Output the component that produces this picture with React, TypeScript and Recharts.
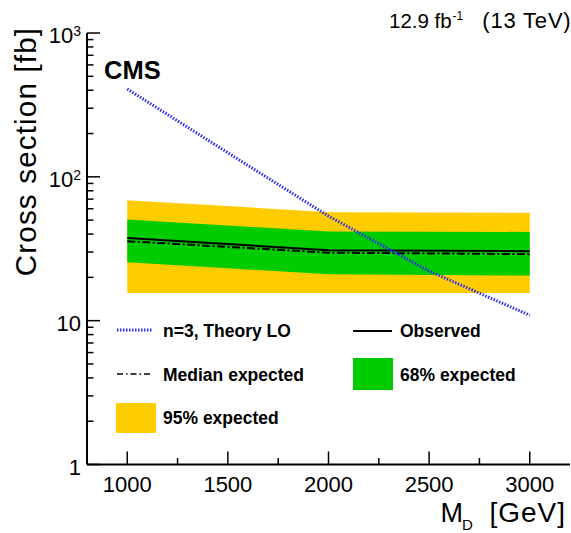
import React from 'react';
import { ComposedChart, Line, Area, XAxis, YAxis, Legend } from 'recharts';

const FONT = '"Liberation Sans", Arial, Helvetica, sans-serif';

// Limit curves (sampled at M_D points)
const limitMass = [1000, 2000, 3000];
const observedLimit = [37.5, 30.9, 30.4];
const medianExpected = [35.7, 29.7, 29.0];
const expected68Low = [25.5, 21.0, 20.6];
const expected68High = [50.5, 41.7, 41.4];
const expected95Low = [15.6, 15.6, 15.6];
const expected95High = [68.8, 56.8, 56.2];

// Theory cross section, n=3 LO
const theoryMass = [1000, 1500, 2000, 2500, 3000];
const theoryLO = [408, 147, 53.3, 22.1, 10.9];

// Axis ticks
const xTickValues = [1000, 1250, 1500, 1750, 2000, 2250, 2500, 2750, 3000];
const xMajorTicks = [1000, 1500, 2000, 2500, 3000];
const yTickValues = [
  1, 2, 3, 4, 5, 6, 7, 8, 9,
  10, 20, 30, 40, 50, 60, 70, 80, 90,
  100, 200, 300, 400, 500, 600, 700, 800, 900,
  1000,
];
const yMajorTicks = [1, 10, 100, 1000];
const yMajorBase = ['1', '10', '10', '10'];
const yMajorExp = ['', '', '2', '3'];

const band95Data = limitMass.map((m, i) => ({ mass: m, range: [expected95Low[i], expected95High[i]] }));
const band68Data = limitMass.map((m, i) => ({ mass: m, range: [expected68Low[i], expected68High[i]] }));
const observedData = limitMass.map((m, i) => ({ mass: m, value: observedLimit[i] }));
const medianData = limitMass.map((m, i) => ({ mass: m, value: medianExpected[i] }));
const theoryData = theoryMass.map((m, i) => ({ mass: m, value: theoryLO[i] }));

const MAJOR = 13;
const MINOR = 6.5;
const THEORY_BLUE = '#2f2ff0';

const BottomTick = (p: any) => {
  const { x, y, payload } = p;
  const v = payload.value;
  const major = xMajorTicks.includes(v);
  return (
    <g>
      <line x1={x} x2={x} y1={y} y2={y - (major ? MAJOR : MINOR)} stroke="#000" strokeWidth={1.5} />
      {major && (
        <text x={x} y={y + 27.5} textAnchor="middle" fontFamily={FONT} fontSize={22} fill="#000">
          {v}
        </text>
      )}
    </g>
  );
};

const TopTick = (p: any) => {
  const { x, y, payload } = p;
  const major = xMajorTicks.includes(payload.value);
  return <line x1={x} x2={x} y1={y} y2={y + (major ? MAJOR : MINOR)} stroke="#000" strokeWidth={1.5} />;
};

const LeftTick = (p: any) => {
  const { x, y, payload } = p;
  const idx = yMajorTicks.indexOf(payload.value);
  const major = idx >= 0;
  return (
    <g>
      <line x1={x} x2={x + (major ? MAJOR : MINOR)} y1={y} y2={y} stroke="#000" strokeWidth={1.5} />
      {major && (
        <text x={x - 6} y={y + 10} textAnchor="end" fontFamily={FONT} fontSize={22} fill="#000">
          <tspan>{yMajorBase[idx]}</tspan>
          {yMajorExp[idx] && (
            <tspan fontSize={14} dy={-7}>
              {yMajorExp[idx]}
            </tspan>
          )}
        </text>
      )}
    </g>
  );
};

const RightTick = (p: any) => {
  const { x, y, payload } = p;
  const major = yMajorTicks.includes(payload.value);
  return <line x1={x} x2={x - (major ? MAJOR : MINOR)} y1={y} y2={y} stroke="#000" strokeWidth={1.5} />;
};

const LegendBox = () => (
  <svg width={571} height={533} style={{ position: 'absolute', left: 0, top: 0 }}>
    <g fontFamily={FONT} fontWeight="bold" fontSize={17.5} fill="#000">
      <line x1={117} x2={153} y1={330} y2={330} stroke={THEORY_BLUE} strokeWidth={3} strokeDasharray="1.5 1.5" />
      <text x={163} y={336.5}>n=3, Theory LO</text>
      <line x1={353} x2={392} y1={331} y2={331} stroke="#000" strokeWidth={2} />
      <text x={400} y={337}>Observed</text>
      <line x1={117} x2={153} y1={374} y2={374} stroke="#000" strokeWidth={1.5} strokeDasharray="6 3 1.5 3" />
      <text x={163} y={380.5}>Median expected</text>
      <rect x={353} y={358} width={40} height={32} fill="#00CC00" />
      <text x={400} y={380.5}>68% expected</text>
      <rect x={116} y={403} width={40} height={30} fill="#FFCC00" />
      <text x={163} y={423.5}>95% expected</text>
    </g>
  </svg>
);

export default function App() {
  return (
    <div style={{ position: 'absolute', left: 0, top: 0, width: 571, height: 533, background: '#fff' }}>
      <ComposedChart width={571} height={533} margin={{ top: 33, right: 1, bottom: 0, left: 0 }}>
        <XAxis
          xAxisId="b"
          type="number"
          dataKey="mass"
          orientation="bottom"
          domain={[800, 3200]}
          allowDataOverflow
          ticks={xTickValues}
          interval={0}
          tick={(p: any) => <BottomTick {...p} />}
          tickSize={0}
          tickMargin={0}
          tickLine={false}
          axisLine={{ stroke: '#000', strokeWidth: 2 }}
          height={68.5}
        />
        <XAxis
          xAxisId="t"
          type="number"
          dataKey="mass"
          orientation="top"
          domain={[800, 3200]}
          allowDataOverflow
          ticks={xTickValues}
          interval={0}
          tick={(p: any) => <TopTick {...p} />}
          tickSize={0}
          tickMargin={0}
          tickLine={false}
          axisLine={{ stroke: '#000', strokeWidth: 2 }}
          height={0}
        />
        <YAxis
          yAxisId="l"
          type="number"
          scale="log"
          domain={[1, 1000]}
          allowDataOverflow
          ticks={yTickValues}
          interval={0}
          tick={(p: any) => <LeftTick {...p} />}
          tickSize={0}
          tickMargin={0}
          tickLine={false}
          axisLine={{ stroke: '#000', strokeWidth: 2 }}
          width={87}
        />
        <YAxis
          yAxisId="r"
          orientation="right"
          type="number"
          scale="log"
          domain={[1, 1000]}
          allowDataOverflow
          ticks={yTickValues}
          interval={0}
          tick={(p: any) => <RightTick {...p} />}
          tickSize={0}
          tickMargin={0}
          tickLine={false}
          axisLine={{ stroke: '#000', strokeWidth: 2 }}
          width={0}
        />
        <Area xAxisId="b" yAxisId="l" data={band95Data} dataKey="range" type="linear" stroke="none" fill="#FFCC00" fillOpacity={1} isAnimationActive={false} name="95% expected" />
        <Area xAxisId="b" yAxisId="l" data={band68Data} dataKey="range" type="linear" stroke="none" fill="#00CC00" fillOpacity={1} isAnimationActive={false} name="68% expected" />
        <Line xAxisId="b" yAxisId="l" data={observedData} dataKey="value" type="linear" stroke="#000" strokeWidth={2} dot={false} isAnimationActive={false} name="Observed" />
        <Line xAxisId="b" yAxisId="l" data={medianData} dataKey="value" type="linear" stroke="#000" strokeWidth={2} strokeDasharray="8 2.5 2 2.5" dot={false} isAnimationActive={false} name="Median expected" />
        <Line xAxisId="b" yAxisId="l" data={theoryData} dataKey="value" type="linear" stroke={THEORY_BLUE} strokeWidth={3} strokeDasharray="1.5 1.5" dot={false} isAnimationActive={false} name="n=3, Theory LO" />
        <Legend
          layout="horizontal"
          verticalAlign="middle"
          align="center"
          wrapperStyle={{ position: 'absolute', left: 0, top: 0, width: 571, height: 533, pointerEvents: 'none' }}
          content={() => <LegendBox />}
        />
      </ComposedChart>
      <svg width={571} height={533} style={{ position: 'absolute', left: 0, top: 0, pointerEvents: 'none' }}>
        <g fontFamily={FONT} fill="#000">
          <text x={104} y={79} fontSize={25.5} fontWeight="bold">CMS</text>
          <text x={389} y={27.5} fontSize={20.5}>12.9 fb</text>
          <text x={452.5} y={20} fontSize={12}>-1</text>
          <text x={571.5} y={27.5} fontSize={22} textAnchor="end" letterSpacing={0.8}>(13 TeV)</text>
          <text transform="translate(36,151.5) rotate(-90)" textAnchor="middle" fontSize={29.5} letterSpacing={1.2}>
            Cross section [fb]
          </text>
          <text x={440.5} y={521.5} fontSize={27}>M</text>
          <text x={462} y={530} fontSize={15}>D</text>
          <text x={566} y={521.5} fontSize={28} textAnchor="end" letterSpacing={1}>[GeV]</text>
        </g>
      </svg>
    </div>
  );
}
